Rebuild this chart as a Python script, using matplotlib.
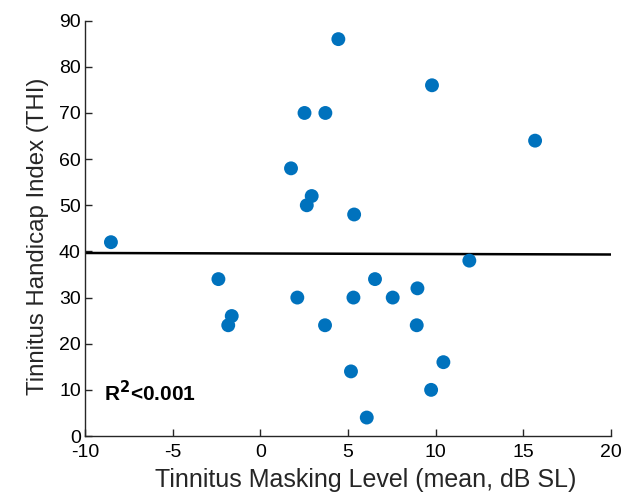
import numpy as np
import matplotlib
matplotlib.use("Agg")
import matplotlib.pyplot as plt

plt.rcParams['font.family'] = ['Liberation Sans', 'DejaVu Sans']
plt.rcParams['axes.unicode_minus'] = False

# masking level (dB SL) vs THI score
masking = [-8.52, -2.39, -1.63, -1.83, 2.11, 3.69, 1.75, 2.65, 2.93, 2.52,
           3.71, 4.45, 5.35, 5.31, 6.54, 7.55, 8.96, 8.92, 5.17, 6.07,
           9.74, 10.44, 11.92, 9.79, 15.67]
thi = [42, 34, 26, 24, 30, 24, 58, 50, 52, 70,
       70, 86, 48, 30, 34, 30, 32, 24, 14, 4,
       10, 16, 38, 76, 64]

fit_intercept = 39.55
fit_slope = -0.011
fit_range = [-10, 20]

blue = '#0072BD'
spine_col = '#262626'

fig = plt.figure(figsize=(6.38, 4.92), dpi=100)
ax = fig.add_axes([0.1332, 0.1138, 0.9577 - 0.1332, 0.958 - 0.1138])

ax.scatter(masking, thi, s=100, color=blue, edgecolors='none', zorder=3)
xs = np.array(fit_range, dtype=float)
ax.plot(xs, fit_intercept + fit_slope * xs, color='black', lw=1.8, zorder=2)

ax.set_xlim(-10, 20)
ax.set_ylim(0, 90)
ax.set_xticks(range(-10, 21, 5))
ax.set_yticks(range(0, 91, 10))

for s in ['top', 'right']:
    ax.spines[s].set_visible(False)
for s in ['left', 'bottom']:
    ax.spines[s].set_color(spine_col)
    ax.spines[s].set_linewidth(1.0)
ax.tick_params(direction='in', length=5, width=1.0, color=spine_col,
               labelsize=14, labelcolor='black', pad=3)
ax.tick_params(axis='x', pad=6)

ax.set_xlabel('Tinnitus Masking Level (mean, dB SL)', fontsize=18,
              color=spine_col, labelpad=4.5, x=0.534)
ax.set_ylabel('Tinnitus Handicap Index (THI)', fontsize=17.3,
              color=spine_col, labelpad=7, y=0.48)

ax.text(-8.9, 9.5, r'R$^\mathbf{2}$<0.001', fontsize=15, fontweight='bold',
        ha='left', va='center')

fig.savefig('out.png', dpi=100)
